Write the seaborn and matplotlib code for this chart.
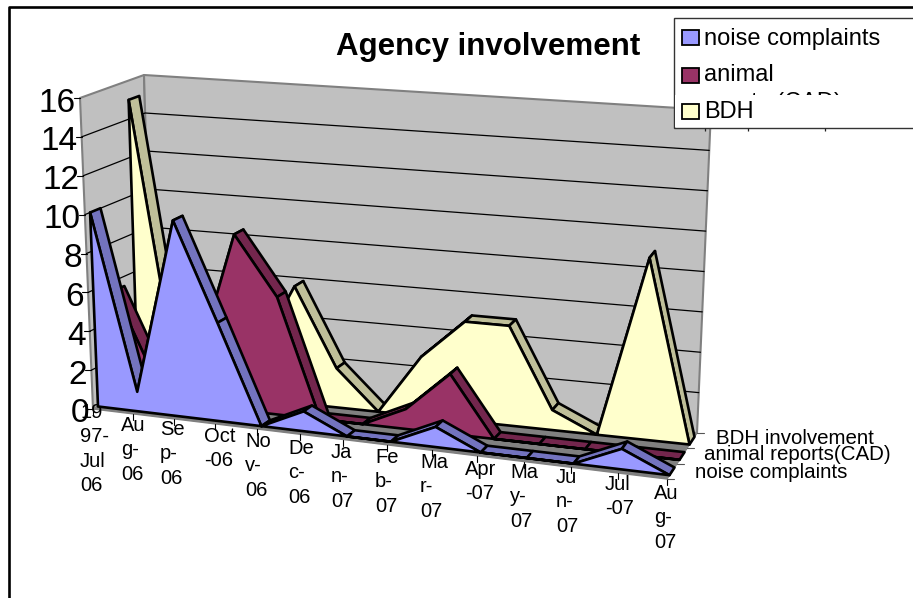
import numpy as np
import pandas as pd
import matplotlib
matplotlib.use('Agg')
import matplotlib.pyplot as plt
from matplotlib.patches import Rectangle
import seaborn as sns

months = ['19\n97-\nJul\n06', 'Au\ng-\n06', 'Se\np-\n06', 'Oct\n-06', 'No\nv-\n06', 'De\nc-\n06', 'Ja\nn-\n07',
          'Fe\nb-\n07', 'Ma\nr-\n07', 'Apr\n-07', 'Ma\ny-\n07', 'Ju\nn-\n07', 'Jul\n-07', 'Au\ng-\n07']
noise = [10, 1, 10, 5, 0, 1, 0, 0, 1, 0, 0, 0, 1, 0]
animal = [5.5, 1, 2, 9, 6, 0, 0, 1, 3, 0, 0, 0, 0, 0]
bdh = [15, 1, 1, 2, 6, 2, 0, 3, 5, 5, 1, 0, 9, 0]
series_names = ['noise complaints', 'animal reports(CAD)', 'BDH involvement']
y_ticks = [0, 2, 4, 6, 8, 10, 12, 14, 16]

sns.set_style('white')
plt.rcParams['font.family'] = ['Liberation Sans', 'DejaVu Sans']

front = sns.color_palette(['#9999FF', '#993366', '#FFFFCC'])
top = sns.color_palette(['#7373BF', '#73264D', '#BFBF99'])

# corners of the 3d box in pixels, (depth, value) -> (x, y)
box = {'flb': (93, 409), 'frb': (667, 479), 'blb': (153, 379), 'brb': (697, 433),
       'flt': (80, 98), 'frt': (681, 149), 'blt': (144, 75), 'brt': (711, 110)}
n = len(months) - 1
persp = 1.11  # months get wider towards the right


def proj(u, v, d):
    t = np.asarray(u, float) / n
    u = t / (t + persp * (1 - t))
    v, d = np.asarray(v, float) / 16, np.asarray(d, float) / 3
    out = []
    for k in (0, 1):
        bottom = (1 - d) * ((1 - u) * box['flb'][k] + u * box['frb'][k]) + d * ((1 - u) * box['blb'][k] + u * box['brb'][k])
        upper = (1 - d) * ((1 - u) * box['flt'][k] + u * box['frt'][k]) + d * ((1 - u) * box['blt'][k] + u * box['brt'][k])
        out.append((1 - v) * bottom + v * upper)
    return out[0], out[1]


def face(ax, u, v, d, color, edge='black', lw=1.9, z=2):
    x, y = proj(u, v, d)
    ax.fill(x, y, facecolor=color, edgecolor=edge, linewidth=lw, joinstyle='round', zorder=z)


fig = plt.figure(figsize=(9.13, 5.98), dpi=100)
ax = fig.add_axes([0, 0, 1, 1])

# walls and floor
face(ax, [0, 0, 0, 0], [0, 16, 16, 0], [0, 0, 3, 3], '#C0C0C0', '#808080', 1.5, 1)
face(ax, [0, n, n, 0], [0, 0, 16, 16], [3, 3, 3, 3], '#C0C0C0', '#808080', 1.5, 1)
face(ax, [0, n, n, 0], [0, 0, 0, 0], [0, 0, 3, 3], '#808080', '#808080', 1, 1)

rows = []
for t in y_ticks[1:-1]:
    for uu, dd in [(0, 0), (0, 3), (n, 3)]:
        px, py = proj(uu, t, dd)
        rows.append({'value': t, 'px': float(px), 'py': float(py)})
grid = pd.DataFrame(rows)
sns.lineplot(data=grid, x='px', y='py', units='value', estimator=None, sort=False, color='black',
             linewidth=0.9, legend=False, ax=ax, zorder=1.5)

# y ticks and labels
for t in y_ticks:
    px, py = proj(0, t, 0)
    ax.plot([px - 6, px], [py, py], color='black', lw=0.8, zorder=1.5)
    ax.text(px - 4, py + 5, str(t), ha='right', va='center', fontsize=24, color='black')

# x ticks and labels
for i, lab in enumerate(months):
    px, py = proj(i, 0, 0)
    ax.plot([px, px], [py, py + 6], color='black', lw=0.8, zorder=1.5)
label_x = [80, 121, 160, 204, 245, 288, 331, 375, 420, 465, 510, 556, 605, 654]
label_y = [403, 416, 420, 427, 432, 439, 443, 448, 453, 460, 463, 468, 475, 484]
for lab, lx, ly in zip(months, label_x, label_y):
    ax.text(lx, ly, lab, ha='left', va='top', fontsize=14.5, linespacing=1.36, color='black')

# series, back to front
g = 0.25
for i, vals in reversed(list(enumerate([noise, animal, bdh]))):
    d0, d1 = i + g, i + 1 - g
    z = 3 + (2 - i)
    for j in range(n):
        face(ax, [j, j + 1, j + 1, j], [vals[j], vals[j + 1], vals[j + 1], vals[j]], [d0, d0, d1, d1], top[i], z=z)
    us = list(range(n + 1))
    face(ax, us + [n, 0], list(vals) + [0, 0], [d0] * (n + 3), front[i], z=z + 0.5)

# depth axis
for k in range(4):
    px, py = proj(n, 0, k)
    ax.plot([px, px + 7], [py, py], color='#555555', lw=0.8, zorder=1.5)
for name, lx, ly in zip(series_names, [695, 704, 716], [472, 455, 438]):
    ax.text(lx, ly, name, ha='left', va='center', fontsize=14.8, color='black', zorder=8)

ax.text(488, 47, 'Agency involvement', ha='center', va='center', fontsize=22.5, fontweight='bold', color='black')

# legend box, second entry is cut off like in the original
ax.add_patch(Rectangle((674, 18), 245, 110, facecolor='white', edgecolor='#333333', lw=1, zorder=9))
ax.text(704, 39, series_names[0], fontsize=17, va='center', color='black', zorder=10)
ax.text(704, 75, 'animal', fontsize=17, va='center', color='black', zorder=10)
ax.text(696, 103, 'reports (CAD)', fontsize=17, va='center', color='black', zorder=10)
ax.add_patch(Rectangle((675, 95), 240, 32, facecolor='white', edgecolor='none', zorder=11))
ax.text(704, 112, 'BDH', fontsize=17, va='center', color='black', zorder=12)
for c, y0 in zip(front, [30, 68, 104]):
    ax.add_patch(Rectangle((682, y0), 17, 15, facecolor=c, edgecolor='black', lw=1.3, zorder=12))
ax.vlines([705, 748, 825], 128, 131, color='#222222', lw=0.9, zorder=12)

# outer frame
ax.plot([9, 9, 913], [598, 7, 7], color='black', lw=1.9, zorder=13)

ax.set_xlim(0, 913)
ax.set_ylim(598, 0)
ax.axis('off')
fig.savefig('out.png', dpi=100)
